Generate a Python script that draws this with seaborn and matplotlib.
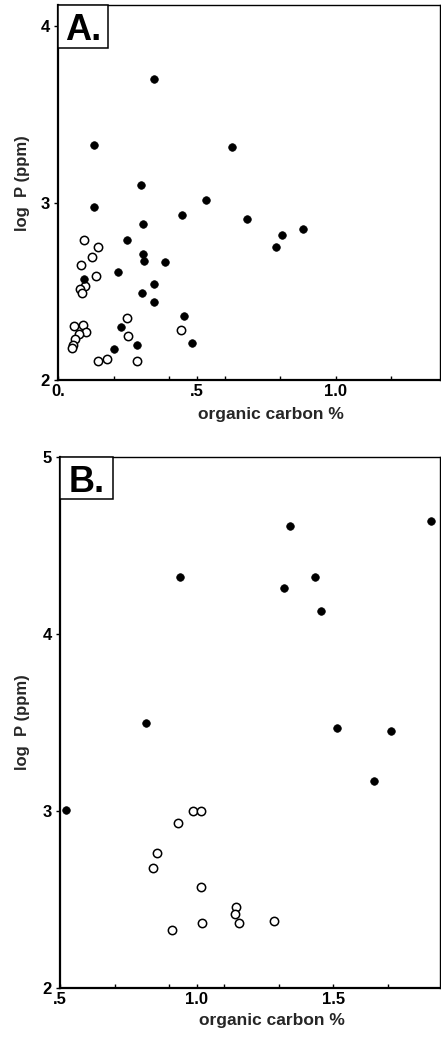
import matplotlib
matplotlib.use("Agg")
import matplotlib.pyplot as plt
import seaborn as sns
import pandas as pd
from matplotlib.ticker import FixedLocator
from matplotlib.patches import Rectangle

sns.set_theme(style="white")
plt.rcParams['font.family'] = ['Liberation Sans', 'DejaVu Sans']
plt.rcParams['font.weight'] = 'bold'

# ---- Panel A data ----
a_filled_x = [0.346, 0.131, 0.628, 0.299, 0.531, 0.131, 0.445, 0.680, 0.307, 0.882,
              0.807, 0.785, 0.249, 0.307, 0.308, 0.384, 0.217, 0.092, 0.344, 0.301,
              0.344, 0.454, 0.225, 0.483, 0.285, 0.203]
a_filled_y = [3.70, 3.33, 3.32, 3.10, 3.02, 2.98, 2.93, 2.91, 2.88, 2.855,
              2.82, 2.75, 2.79, 2.71, 2.67, 2.665, 2.61, 2.57, 2.54, 2.49,
              2.44, 2.36, 2.30, 2.21, 2.20, 2.175]
a_open_x = [0.094, 0.144, 0.122, 0.083, 0.136, 0.097, 0.078, 0.087, 0.247, 0.058,
            0.089, 0.101, 0.076, 0.253, 0.442, 0.061, 0.055, 0.049, 0.143, 0.175, 0.285]
a_open_y = [2.79, 2.75, 2.695, 2.65, 2.59, 2.53, 2.515, 2.49, 2.35, 2.305,
            2.31, 2.27, 2.26, 2.25, 2.28, 2.23, 2.20, 2.18, 2.11, 2.12, 2.11]

# ---- Panel B data ----
b_filled_x = [0.939, 1.342, 1.857, 1.320, 1.433, 1.455, 0.813, 1.512, 1.709, 1.647, 0.523]
b_filled_y = [4.32, 4.61, 4.64, 4.26, 4.32, 4.13, 3.50, 3.47, 3.45, 3.17, 3.005]
b_open_x = [0.988, 1.015, 0.931, 0.853, 0.842, 1.016, 1.143, 1.141, 1.018, 1.153, 1.282, 0.908]
b_open_y = [3.00, 3.00, 2.93, 2.76, 2.68, 2.57, 2.46, 2.42, 2.37, 2.37, 2.38, 2.33]

a_xticks = [0.0, 0.5, 1.0]
a_xticklabels = ["0.", ".5", "1.0"]
a_minor = [0.2, 0.4, 0.6, 0.8, 1.2]
a_yticks = [2, 3, 4]
b_xticks = [0.5, 1.0, 1.5]
b_xticklabels = [".5", "1.0", "1.5"]
b_minor = [0.7, 0.9, 1.1, 1.3, 1.7]
b_yticks = [2, 3, 4, 5]

W, H = 441, 1037
fig = plt.figure(figsize=(W / 100, H / 100), dpi=100)

def fx(px):
    return px / W

def fy(py):
    return 1 - py / H

axA = fig.add_axes([fx(58), fy(380), fx(440) - fx(58), fy(5) - fy(380)])
axB = fig.add_axes([fx(60), fy(988), fx(440) - fx(60), fy(457) - fy(988)])

def draw(ax, fxs, fys, oxs, oys, xlim, ylim, xt, xtl, minor, yt, label,
         box_w, box_h, xlab_y, ylab_x, ylab_y):
    df_f = pd.DataFrame({"x": fxs, "y": fys})
    df_o = pd.DataFrame({"x": oxs, "y": oys})
    sns.scatterplot(data=df_o, x="x", y="y", ax=ax, s=36, facecolor="white",
                    edgecolor="black", linewidth=1.1, zorder=3)
    sns.scatterplot(data=df_f, x="x", y="y", ax=ax, s=30, color="black",
                    edgecolor="black", linewidth=0.5, zorder=4)
    ax.set_xlim(*xlim)
    ax.set_ylim(*ylim)
    ax.set_xticks(xt)
    ax.set_xticklabels(xtl, fontsize=12, fontweight="bold")
    ax.xaxis.set_minor_locator(FixedLocator(minor))
    ax.set_yticks(yt)
    ax.set_yticklabels([str(v) for v in yt], fontsize=12, fontweight="bold")
    ax.tick_params(axis="x", which="both", direction="in", length=3, width=1,
                   bottom=True, pad=3, colors="black")
    ax.tick_params(axis="y", which="major", direction="out", length=3, width=1,
                   left=True, pad=3, colors="black")
    ax.set_xlabel("organic carbon %", fontsize=12.5, fontweight="bold", va="center")
    ax.xaxis.set_label_coords(0.557, xlab_y)
    ax.set_ylabel("log  P (ppm)", fontsize=12, fontweight="bold", va="center")
    ax.yaxis.set_label_coords(ylab_x, ylab_y)
    for side in ["left", "bottom"]:
        ax.spines[side].set_linewidth(1.6)
        ax.spines[side].set_color("black")
    for side in ["top", "right"]:
        ax.spines[side].set_linewidth(1.0)
        ax.spines[side].set_color("black")
    ax.add_patch(Rectangle((0, 1 - box_h), box_w, box_h, transform=ax.transAxes,
                           facecolor="white", edgecolor="black", linewidth=1.1,
                           zorder=5, clip_on=False))
    ax.text(box_w / 2, 1 - box_h / 2, label, transform=ax.transAxes, fontsize=26,
            fontweight="bold", ha="center", va="center_baseline", color="black",
            zorder=6)

draw(axA, a_filled_x, a_filled_y, a_open_x, a_open_y, (0.0, 1.375), (2.0, 4.12),
     a_xticks, a_xticklabels, a_minor, a_yticks, "A.",
     50 / 382, 43 / 375, -0.093, -0.094, 0.525)
draw(axB, b_filled_x, b_filled_y, b_open_x, b_open_y, (0.5, 1.89), (2.0, 5.0),
     b_xticks, b_xticklabels, b_minor, b_yticks, "B.",
     53 / 380, 42 / 531, -0.062, -0.1, 0.50)

fig.savefig("out.png", dpi=100)
